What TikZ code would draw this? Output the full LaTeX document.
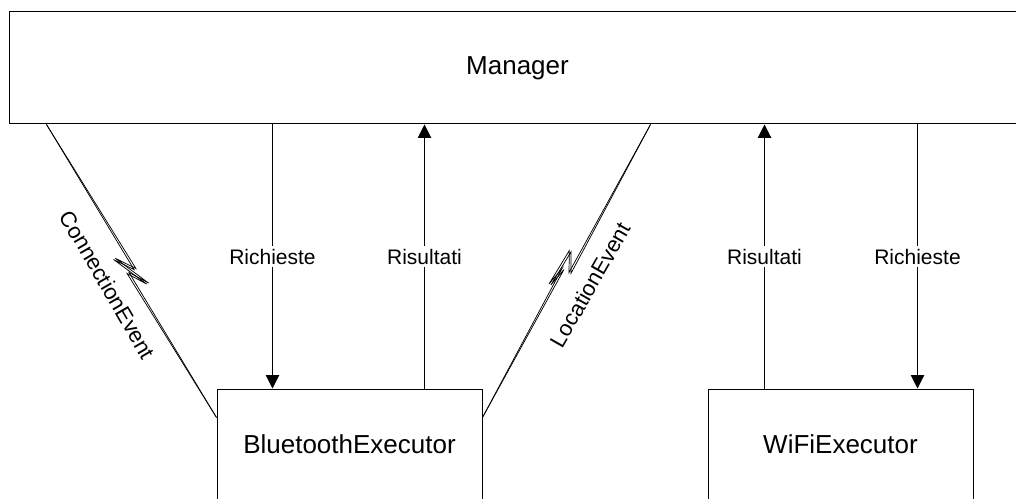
\documentclass[tikz,border=0pt]{standalone}
\usepackage{fontspec}
\setmainfont{Liberation Sans}
\usetikzlibrary{calc,arrows.meta}
\begin{document}
\begin{tikzpicture}[x=0.75pt,y=-0.75pt,
  box/.style={draw=black, line width=0.75pt, rectangle, inner sep=0pt,
    font=\fontsize{19.5}{23}\selectfont},
  flow/.style={line width=0.75pt, -{Triangle[length=10pt,width=10pt]}},
  lbl/.style={fill=white, font=\fontsize{15.75}{19}\selectfont, inner sep=2pt},
  strand/.style={draw=black, line width=0.55pt, line join=miter},
  evt/.style={font=\fontsize{16.5}{20}\selectfont, sloped, below=11pt}]
\clip (0,0) rectangle (1016,499);

% components
\node[box, minimum width=762.75pt, minimum height=84pt] (mgr) at (517.5,68) {Manager};
\node[box, minimum width=198.75pt, minimum height=83.25pt] (bt) at (349.5,444.5) {BluetoothExecutor};
\node[box, minimum width=198.75pt, minimum height=83.25pt] (wifi) at (840.5,444.5) {WiFiExecutor};

% request / result flows
\coordinate (btreq) at ($(bt.north west)+(56,0)$);
\coordinate (btres) at ($(bt.north east)+(-58,0)$);
\coordinate (wfres) at ($(wifi.north west)+(57,0)$);
\coordinate (wfreq) at ($(wifi.north east)+(-56,0)$);
\draw[flow] (mgr.south -| btreq) -- node[lbl]{Richieste} (btreq);
\draw[flow] (btres) -- node[lbl]{Risultati} (mgr.south -| btres);
\draw[flow] (wfres) -- node[lbl]{Risultati} (mgr.south -| wfres);
\draw[flow] (mgr.south -| wfreq) -- node[lbl]{Richieste} (wfreq);

% ConnectionEvent: Manager -> BluetoothExecutor, a tapered lightning band
\coordinate (ca) at ($(mgr.south west)+(38,0)$);
\coordinate (cb) at ($(bt.north west)+(0,29)$);
\coordinate (cm) at ($(ca)!.5!(cb)$);
\coordinate (cu) at ($(cm)!3pt!90:(cb)$);
\coordinate (ct1) at ($(cm)!14.25pt!(ca)!6.5pt!-90:(cb)$);
\coordinate (ct2) at ($(cm)!14.25pt!(cb)!5.75pt!90:(cb)$);
\coordinate (cl) at ($(cm)!3pt!-90:(cb)$);
\foreach \s in {0.8pt,-0.8pt}{
  \draw[strand] (ca) -- ($(cu)!\s!90:(cb)$) -- ($(ct1)!\s!90:(cb)$)
    -- ($(ct2)!\s!90:(cb)$) -- ($(cl)!\s!90:(cb)$) -- (cb);
}
\path (ca) -- node[evt]{ConnectionEvent} (cb);

% LocationEvent: BluetoothExecutor -> Manager, a tapered lightning band
\coordinate (lc) at ($(bt.north east)+(0,29)$);
\coordinate (ld) at ($(mgr.south west)+(642,0)$);
\coordinate (lm) at ($(lc)!.5!(ld)$);
\coordinate (lu) at ($(lm)!3pt!90:(ld)$);
\coordinate (lt1) at ($(lm)!14.25pt!(ld)!5pt!90:(ld)$);
\coordinate (lt2) at ($(lm)!15pt!(lc)!5.75pt!90:(ld)$);
\coordinate (ll) at ($(lm)!3pt!-90:(ld)$);
\foreach \s in {0.8pt,-0.8pt}{
  \draw[strand] (ld) -- ($(ll)!\s!90:(lc)$) -- ($(lt1)!\s!90:(lc)$)
    -- ($(lt2)!\s!90:(lc)$) -- ($(lu)!\s!90:(lc)$) -- (lc);
}
\path (lc) -- node[evt]{LocationEvent} (ld);
\end{tikzpicture}
\end{document}
